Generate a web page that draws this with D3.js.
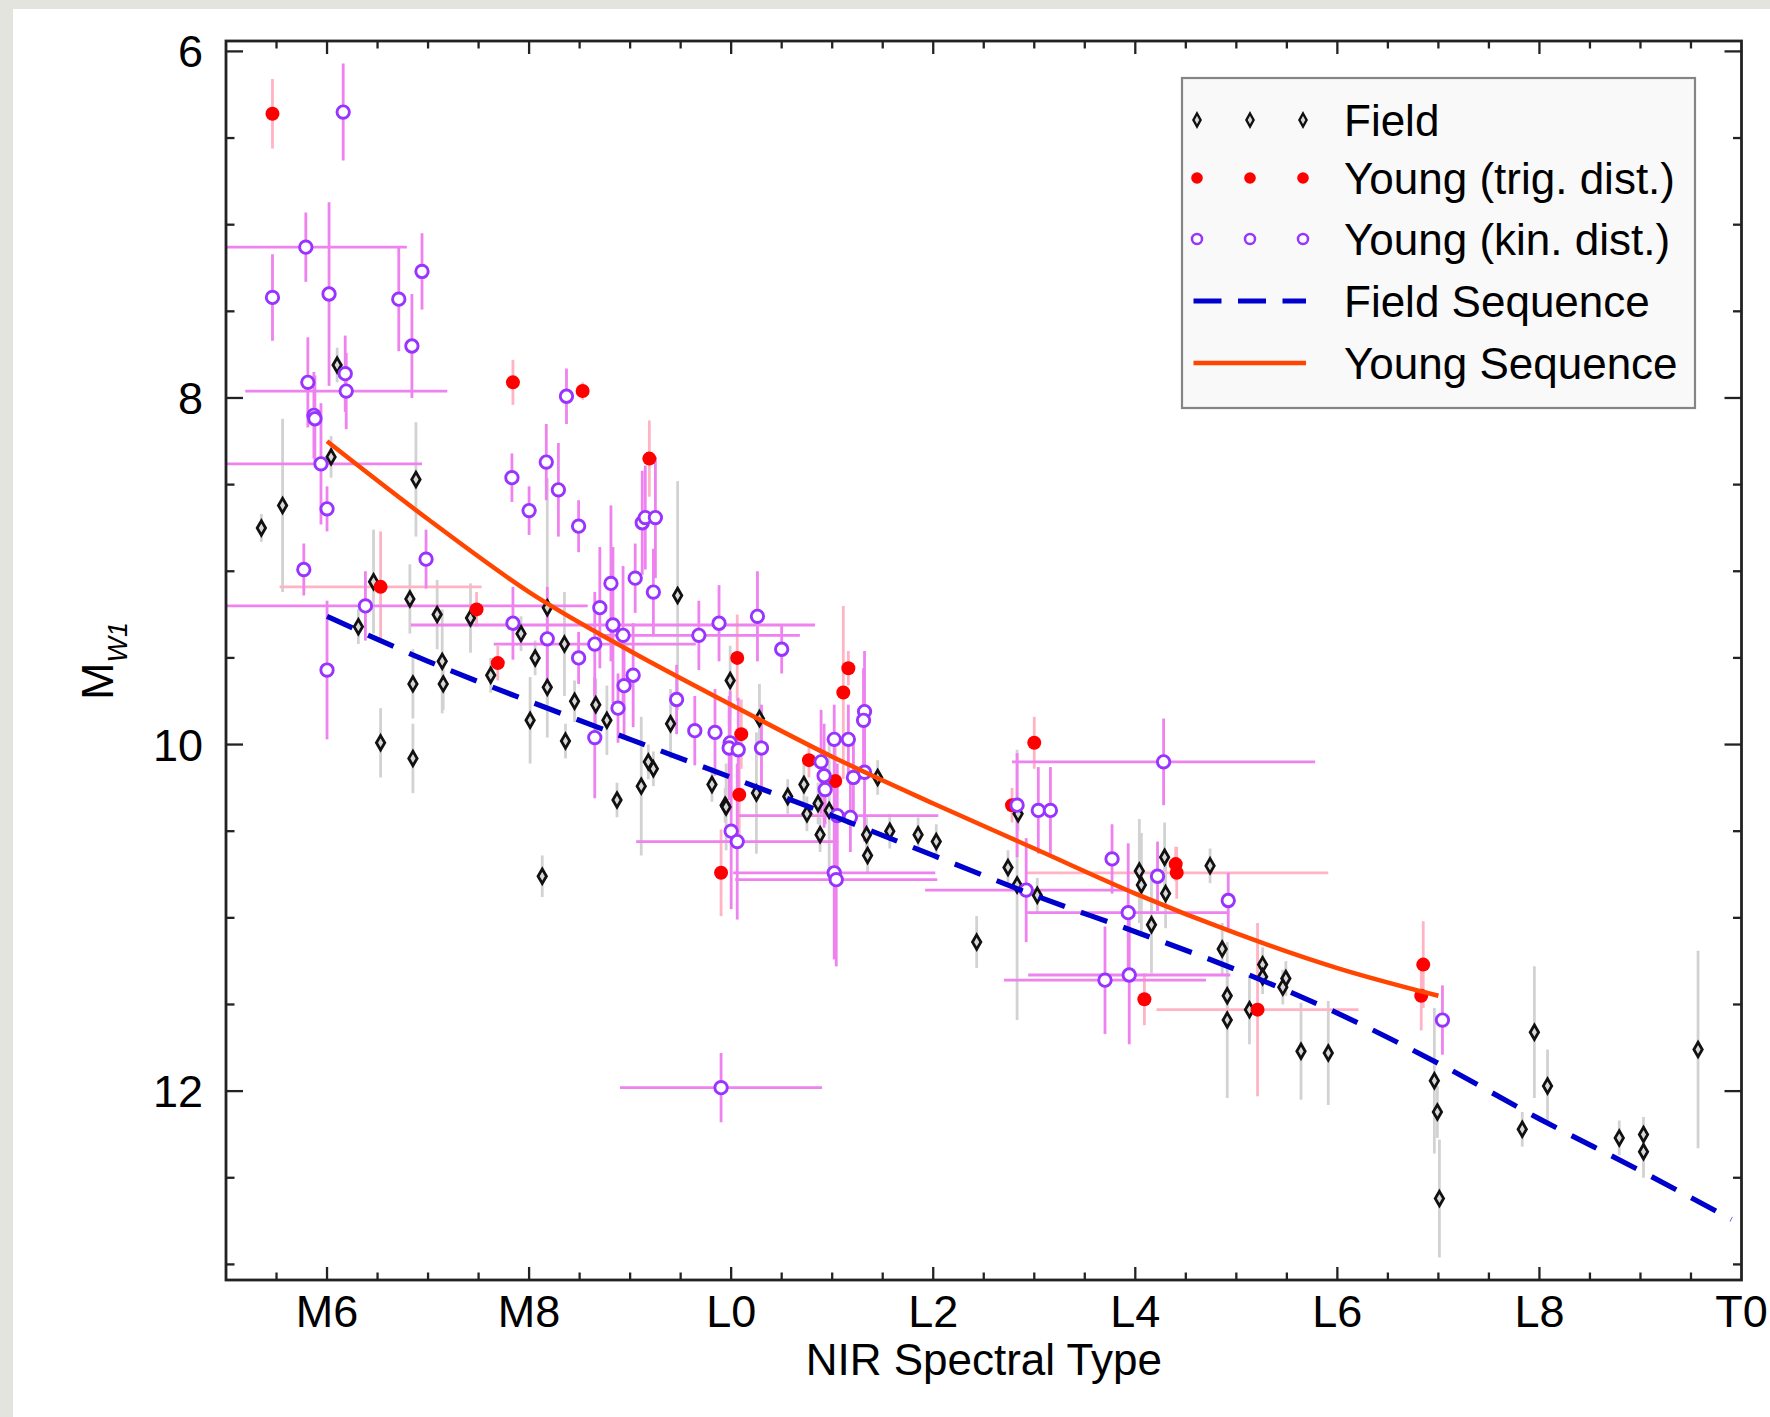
<!DOCTYPE html>
<html><head><meta charset="utf-8">
<script src="https://cdn.jsdelivr.net/npm/d3@7"></script>
<style>
html,body{margin:0;padding:0;background:#e4e4df;}
svg{display:block;}
text{font-family:"Liberation Sans",Arial,Helvetica,sans-serif;fill:#000;}
</style></head><body>
<svg id="chart" width="1770" height="1417"></svg>
<script>
// ---------------- data ----------------
const xTickValues = [6, 8, 10, 12, 14, 16, 18, 20];
const xTickLabels = ["M6", "M8", "L0", "L2", "L4", "L6", "L8", "T0"];
const yTickValues = [6, 8, 10, 12];

// Field objects: [spectral type (M6=6, L0=10, T0=20), M_W1, err]
const fieldPoints = [
  [5.35,8.75,0.08],[5.56,8.62,0.5],[6.10,7.81,0.1],[6.04,8.34,0.12],[6.88,8.47,0.33],
  [6.31,9.32,0.1],[6.46,9.06,0.3],[6.82,9.16,0.2],[7.09,9.25,0.2],[7.42,9.27,0.2],
  [6.85,9.65,0.2],[7.14,9.52,0.3],[7.15,9.65,0.15],[6.53,9.99,0.2],[6.85,10.08,0.2],
  [7.62,9.60,0.1],[7.92,9.36,0.1],[8.18,9.21,0.75],[8.06,9.50,0.1],[8.18,9.67,0.1],
  [8.35,9.42,0.3],[8.01,9.86,0.25],[8.36,9.98,0.1],[8.45,9.75,0.12],[8.66,9.77,0.15],
  [8.77,9.86,0.2],[8.13,10.76,0.12],[8.87,10.32,0.1],[9.11,10.24,0.4],[9.18,10.10,0.1],
  [9.23,10.14,0.1],[9.40,9.88,0.2],[9.47,9.14,0.66],[9.81,10.23,0.1],[9.94,10.35,0.1],
  [9.99,9.63,0.2],[10.28,9.85,0.2],[10.25,10.28,0.35],[9.95,10.36,0.25],[10.72,10.23,0.12],
  [10.56,10.30,0.1],[10.86,10.34,0.12],[10.75,10.40,0.1],[10.97,10.38,0.4],[10.88,10.52,0.1],
  [11.45,10.19,0.1],[11.34,10.52,0.1],[11.35,10.64,0.1],[11.57,10.50,0.1],[11.85,10.52,0.1],
  [12.03,10.56,0.1],[12.43,11.14,0.15],[12.74,10.71,0.1],[12.83,10.81,0.78],[12.84,10.40,0.1],
  [13.03,10.87,0.1],[14.04,10.73,0.3],[14.06,10.81,0.3],[14.29,10.65,0.2],[14.30,10.86,0.2],
  [14.16,11.04,0.28],[14.74,10.70,0.1],[14.86,11.18,0.15],[14.91,11.45,0.1],[14.91,11.59,0.45],
  [15.13,11.53,0.2],[15.26,11.27,0.1],[15.26,11.34,0.1],[15.49,11.35,0.1],[15.46,11.40,0.1],
  [15.64,11.77,0.28],[15.91,11.78,0.3],[16.96,11.94,0.42],[16.99,12.12,0.15],[17.01,12.62,0.34],
  [17.95,11.66,0.38],[18.08,11.97,0.21],[17.83,12.22,0.1],[18.79,12.27,0.1],[19.03,12.25,0.1],
  [19.03,12.35,0.15],[19.57,11.76,0.57]
];

// Young, trigonometric distance: [SpT, M_W1, yerr, xerr]
const youngTrigPoints = [
  [5.46,6.36,0.2,0],[7.84,7.91,0.13,0],[8.53,7.96,0.05,0],[9.19,8.35,0.22,0],[6.53,9.09,0.32,1.0],
  [7.48,9.22,0.1,0],[7.69,9.53,0.1,0],[10.06,9.50,0.25,0],[10.10,9.94,0.2,0],[10.08,10.29,0.3,0],
  [9.90,10.74,0.25,0],[10.77,10.09,0.1,0],[11.03,10.21,0.2,0],[11.11,9.70,0.5,0],[11.16,9.56,0.1,0],
  [13.00,9.99,0.15,0],[12.78,10.35,0.1,0],[14.40,10.69,0.1,0],[14.41,10.74,0.15,1.5],[14.09,11.47,0.15,0],
  [15.21,11.53,0.5,1.0],[16.85,11.27,0.25,0],[16.83,11.45,0.2,0]
];

// Young, kinematic distance: [SpT, M_W1, yerr, xerr]
const youngKinPoints = [
  [6.16,6.35,0.28,0],[5.79,7.13,0.2,1.0],[5.46,7.42,0.25,0],[6.02,7.40,0.53,0],[6.71,7.43,0.3,0],
  [6.94,7.27,0.22,0],[6.84,7.70,0.3,0],[6.18,7.86,0.22,0],[5.81,7.91,0.26,0],[6.19,7.96,0.22,1.0],
  [5.87,8.10,0.25,0],[5.88,8.12,0.25,0],[5.94,8.38,0.35,1.0],[6.00,8.64,0.13,0],[5.77,8.99,0.15,0],
  [6.98,8.93,0.17,0],[6.38,9.20,0.2,2.2],[7.84,9.30,0.21,0],[8.18,9.39,0.3,0],[8.65,9.42,0.3,1.0],
  [8.49,9.50,0.15,0],[8.70,9.21,0.35,0],[8.83,9.31,0.45,2.0],[8.93,9.37,0.4,0],[9.03,9.60,0.3,0],
  [8.94,9.66,0.3,0],[8.88,9.79,0.2,0],[8.65,9.96,0.35,0],[6.00,9.57,0.4,0],[7.83,8.46,0.14,0],
  [8.17,8.37,0.22,0],[8.00,8.65,0.14,0],[8.29,8.53,0.27,0],[8.49,8.74,0.15,0],[8.37,7.99,0.16,0],
  [9.12,8.72,0.3,0],[9.15,8.69,0.3,0],[9.25,8.69,0.35,0],[8.81,9.07,0.45,0],[9.05,9.04,0.2,0],
  [9.23,9.12,0.25,0],[9.88,9.30,0.22,0],[9.68,9.37,0.2,1.0],[9.46,9.74,0.2,0],[9.64,9.92,0.2,0],
  [9.84,9.93,0.25,0],[10.26,9.26,0.26,0],[10.50,9.45,0.14,0],[9.99,9.99,0.3,0],[9.98,10.02,0.3,0],
  [10.07,10.03,0.3,0],[10.30,10.02,0.25,0],[10.00,10.50,0.45,0],[10.06,10.56,0.45,1.0],[11.02,10.74,0.5,1.0],
  [11.04,10.78,0.5,1.0],[10.89,10.10,0.3,0],[10.92,10.18,0.3,0],[10.93,10.26,0.2,0],[11.05,10.41,0.3,1.0],
  [11.18,10.42,0.2,0],[11.02,9.97,0.2,0],[11.16,9.97,0.2,0],[11.32,9.81,0.35,0],[11.31,9.86,0.3,0],
  [11.21,10.19,0.2,0],[11.32,10.16,0.4,0],[12.92,10.84,0.3,1.0],[14.28,10.10,0.25,1.5],[12.83,10.35,0.3,0],
  [13.04,10.38,0.25,0],[13.16,10.38,0.25,0],[13.77,10.66,0.2,0],[14.22,10.76,0.2,0],[14.92,10.90,0.16,0],
  [13.93,10.97,0.4,1.0],[13.70,11.36,0.31,1.0],[13.94,11.33,0.4,1.0],[17.04,11.59,0.2,0],[9.90,11.98,0.2,1.0]
];

// Sequences
const fieldSeqSpT = [6,7,8,9,10,11,12,13,14,15,16,17,18,19,19.9];
const fieldSeqMW1 = [9.26,9.52,9.75,9.97,10.19,10.41,10.64,10.87,11.08,11.30,11.55,11.84,12.16,12.46,12.74];
const youngSeqSpT = [6,7,8,9,10,11,12,13,14,15,16,17];
const youngSeqMW1 = [8.25,8.70,9.12,9.46,9.77,10.07,10.34,10.60,10.86,11.09,11.29,11.45];

const legendLabels = ["Field","Young (trig. dist.)","Young (kin. dist.)","Field Sequence","Young Sequence"];

// ---------------- drawing ----------------
const svg = d3.select("#chart");
const L = 226, R = 1741.5, T = 41, B = 1280;

svg.append("rect").attr("x",13).attr("y",9).attr("width",1770-13).attr("height",1417-9).attr("fill","#ffffff");

const x = d3.scaleLinear().domain([5,20]).range([L,R]);
const y = d3.scaleLinear().domain([5.94,13.09]).range([T,B]);

svg.append("clipPath").attr("id","clip").append("rect")
  .attr("x",L).attr("y",T).attr("width",R-L).attr("height",B-T);

const plot = svg.append("g").attr("clip-path","url(#clip)");

function errorBars(g, data, color, hasX){
  g.selectAll(null).data(data).enter().append("line")
    .attr("x1",d=>x(d[0])).attr("x2",d=>x(d[0]))
    .attr("y1",d=>y(d[1]-d[2])).attr("y2",d=>y(d[1]+d[2]))
    .attr("stroke",color).attr("stroke-width",2.8);
  if(hasX){
    g.selectAll(null).data(data.filter(d=>d[3]>0)).enter().append("line")
      .attr("x1",d=>x(d[0]-d[3])).attr("x2",d=>x(d[0]+d[3]))
      .attr("y1",d=>y(d[1])).attr("y2",d=>y(d[1]))
      .attr("stroke",color).attr("stroke-width",2.8);
  }
}
const diamond = "M0,-7.2L4.2,0L0,7.2L-4.2,0Z";

const gBars = plot.append("g");
errorBars(gBars, fieldPoints, "#d2d2d2", false);
errorBars(gBars, youngTrigPoints, "#ffb4c4", true);
errorBars(gBars, youngKinPoints, "#ee82ee", true);

plot.append("g").selectAll("path").data(fieldPoints).enter().append("path")
  .attr("d",diamond).attr("transform",d=>`translate(${x(d[0])},${y(d[1])})`)
  .attr("fill","#d8d8d8").attr("stroke","#111").attr("stroke-width",2.8);

plot.append("g").selectAll("circle").data(youngTrigPoints).enter().append("circle")
  .attr("cx",d=>x(d[0])).attr("cy",d=>y(d[1])).attr("r",7).attr("fill","#ff0000");

plot.append("g").selectAll("circle").data(youngKinPoints).enter().append("circle")
  .attr("cx",d=>x(d[0])).attr("cy",d=>y(d[1])).attr("r",6.2)
  .attr("fill","#ffffff").attr("stroke","#9933ff").attr("stroke-width",2.9);

const line = d3.line().x(d=>x(d[0])).y(d=>y(d[1])).curve(d3.curveMonotoneX);
plot.append("path").datum(fieldSeqSpT.map((s,i)=>[s,fieldSeqMW1[i]]))
  .attr("d",line).attr("fill","none").attr("stroke","#0000cd").attr("stroke-width",5.2)
  .attr("stroke-dasharray","28,17");
plot.append("path").datum(youngSeqSpT.map((s,i)=>[s,youngSeqMW1[i]]))
  .attr("d",line).attr("fill","none").attr("stroke","#ff4500").attr("stroke-width",4.5);

// frame
svg.append("rect").attr("x",L).attr("y",T).attr("width",R-L).attr("height",B-T)
  .attr("fill","none").attr("stroke","#222").attr("stroke-width",2.8);

// ticks
const tk = svg.append("g").attr("stroke","#222").attr("stroke-width",2.3);
const xMinor = d3.range(5.5, 20, 0.5);
xMinor.forEach(v=>{
  const major = xTickValues.includes(v);
  const len = major ? 13 : 7.5;
  tk.append("line").attr("x1",x(v)).attr("x2",x(v)).attr("y1",B).attr("y2",B-len);
  tk.append("line").attr("x1",x(v)).attr("x2",x(v)).attr("y1",T).attr("y2",T+len);
});
const yMinor = d3.range(6, 13.01, 0.5);
yMinor.forEach(v=>{
  const major = yTickValues.includes(v);
  const len = major ? 17 : 8.5;
  tk.append("line").attr("x1",L).attr("x2",L+len).attr("y1",y(v)).attr("y2",y(v));
  tk.append("line").attr("x1",R).attr("x2",R-len).attr("y1",y(v)).attr("y2",y(v));
});

// tick labels
svg.append("g").selectAll("text").data(xTickValues).enter().append("text")
  .attr("x",d=>x(d)).attr("y",1327).attr("text-anchor","middle")
  .attr("font-size",45).text((d,i)=>xTickLabels[i]);
svg.append("g").selectAll("text").data(yTickValues).enter().append("text")
  .attr("x",203).attr("y",d=>y(d)+16).attr("text-anchor","end")
  .attr("font-size",45).text(d=>d);

// axis titles
svg.append("text").attr("x",(L+R)/2).attr("y",1375).attr("text-anchor","middle")
  .attr("font-size",44).text("NIR Spectral Type");
const yt = svg.append("text").attr("transform","translate(113,661) rotate(-90)")
  .attr("text-anchor","middle");
yt.append("tspan").attr("font-size",45).text("M");
yt.append("tspan").attr("font-size",27).attr("font-style","italic").attr("dy",14).text("W1");

// legend
const lg = svg.append("g");
lg.append("rect").attr("x",1182).attr("y",78).attr("width",513).attr("height",330)
  .attr("fill","#f9f9f9").attr("stroke","#858585").attr("stroke-width",2.2);
const rowY = [120, 178, 239, 301, 363];
const symX = [1197, 1250, 1303];
symX.forEach(sx=>{
  lg.append("path").attr("d","M0,-6.5L3.6,0L0,6.5L-3.6,0Z").attr("transform",`translate(${sx},${rowY[0]})`)
    .attr("fill","#d8d8d8").attr("stroke","#111").attr("stroke-width",2.4);
  lg.append("circle").attr("cx",sx).attr("cy",rowY[1]).attr("r",5.8).attr("fill","#ff0000");
  lg.append("circle").attr("cx",sx).attr("cy",rowY[2]).attr("r",5)
    .attr("fill","#fff").attr("stroke","#9933ff").attr("stroke-width",2.5);
});
lg.append("line").attr("x1",1193.5).attr("x2",1306).attr("y1",rowY[3]).attr("y2",rowY[3])
  .attr("stroke","#0000cd").attr("stroke-width",5.2).attr("stroke-dasharray","28,16.5");
lg.append("line").attr("x1",1193.5).attr("x2",1306).attr("y1",rowY[4]).attr("y2",rowY[4])
  .attr("stroke","#ff4500").attr("stroke-width",4.5);
legendLabels.forEach((t,i)=>{
  lg.append("text").attr("x",1344).attr("y",rowY[i]+16).attr("font-size",44).text(t);
});
</script>
</body></html>
